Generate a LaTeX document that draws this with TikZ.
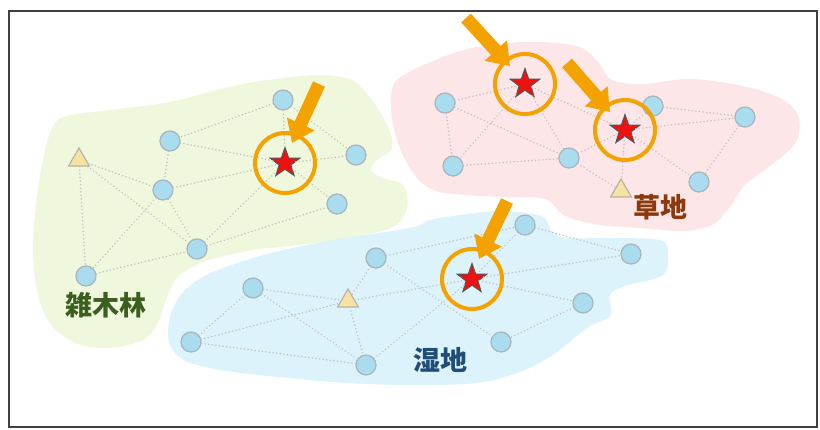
\documentclass[tikz,border=0pt]{standalone}
\usepackage{fontspec}
\newfontfamily\cjk{Noto Sans CJK JP}
\usetikzlibrary{shapes.geometric,arrows.meta}
\definecolor{greenbg}{HTML}{EFF7DC}
\definecolor{pinkbg}{HTML}{FCE6E8}
\definecolor{bluebg}{HTML}{DDF3FB}
\definecolor{nodefill}{HTML}{A8DCEE}
\definecolor{nodedraw}{HTML}{AAB4BC}
\definecolor{trifill}{HTML}{F6E3A4}
\definecolor{tridraw}{HTML}{B8B4A8}
\definecolor{starfill}{HTML}{EE1111}
\definecolor{stardraw}{HTML}{555555}
\definecolor{ringc}{HTML}{F3A200}
\definecolor{edgec}{HTML}{C2C2C2}
\definecolor{lblgreen}{HTML}{3B5F1E}
\definecolor{lblbrown}{HTML}{8B3A0E}
\definecolor{lblblue}{HTML}{1F4E79}
\definecolor{framec}{HTML}{404040}
\tikzset{
  site/.style={circle, fill=nodefill, draw=nodedraw, line width=1.2pt, minimum size=20pt, inner sep=0pt},
  tri/.style={regular polygon, regular polygon sides=3, fill=trifill, draw=tridraw, line width=1.2pt, minimum size=24pt, inner sep=0pt},
  starnode/.style={star, star points=5, star point ratio=2.5, fill=starfill, draw=stardraw, line width=1pt, minimum size=31pt, inner sep=0pt},
  link/.style={edgec, line width=1.7pt, line cap=round, dash pattern=on 0.01pt off 3.6pt},
  ring/.style={draw=ringc, line width=4pt},
  fatarrow/.style={ringc, line width=13pt, -{Triangle[length=21pt,width=29pt]}},
  lbl/.style={font=\cjk\bfseries\fontsize{27}{30}\selectfont, inner sep=0pt}
}
\begin{document}
\begin{tikzpicture}[x=1pt,y=-1pt]
\useasboundingbox (0,0) rectangle (820,429);
% regions
\fill[greenbg] plot[smooth cycle, tension=0.55] coordinates {
 (63,117) (110,110) (170,102) (233,86) (283,78) (320,75) (352,80) (372,100) (388,127) (392,148)
 (376,161) (371,170) (382,178) (403,185) (407,208) (393,227) (353,237) (300,245) (253,250)
 (203,262) (177,278) (166,300) (158,323) (143,340) (110,348) (78,344) (52,326) (38,295)
 (33,250) (36,205) (42,165) (50,133)};
\fill[pinkbg] plot[smooth cycle, tension=0.55] coordinates {
 (407,73) (443,57) (477,47) (527,42) (577,46) (598,62) (612,80) (643,84) (690,79) (743,86)
 (780,98) (798,115) (797,140) (778,160) (745,185) (730,207) (712,225) (683,231) (640,228)
 (600,225) (565,216) (545,199) (500,197) (445,193) (423,184) (408,165) (397,140) (391,110) (393,86)};
\fill[bluebg] plot[smooth cycle, tension=0.55] coordinates {
 (410,228) (333,240) (267,254) (213,272) (187,288) (173,308) (168,332) (172,349) (188,362)
 (233,372) (333,382) (410,385) (477,383) (520,372) (553,355) (587,328) (610,316) (610,295)
 (625,286) (663,275) (668,253) (660,240) (610,238) (567,238) (552,231) (541,216) (500,211)
 (460,215) (430,220)};
% frame
\draw[framec, line width=1.5pt] (9,11) rectangle (817,427);
% green nodes
\node[site] (G1) at (283,100) {};
\node[site] (G2) at (170,141) {};
\node[tri]  (T1) at (79,160) {};
\node[starnode] (S1) at (285,163) {};
\node[site] (G3) at (356,155) {};
\node[site] (G4) at (163,190) {};
\node[site] (G5) at (337,204) {};
\node[site] (G6) at (197,249) {};
\node[site] (G7) at (86,276) {};
% pink nodes
\node[starnode] (S2) at (525,84) {};
\node[starnode] (S3) at (625,130) {};
\node[site] (P1) at (445,103) {};
\node[site] (P2) at (453,166) {};
\node[site] (P3) at (569,158) {};
\node[site] (P4) at (653,106) {};
\node[site] (P5) at (745,117) {};
\node[site] (P6) at (699,182) {};
\node[tri]  (T2) at (621,191) {};
% blue nodes
\node[site] (B1) at (525,225) {};
\node[site] (B2) at (376,258) {};
\node[site] (B3) at (631,254) {};
\node[starnode] (S4) at (472,279) {};
\node[site] (B4) at (253,288) {};
\node[tri]  (T3) at (348,301) {};
\node[site] (B5) at (583,303) {};
\node[site] (B6) at (191,342) {};
\node[site] (B7) at (501,342) {};
\node[site] (B8) at (366,365) {};
% links
\foreach \a/\b in {G1/G2,G1/S1,G1/G3,G2/S1,G2/G4,T1/G4,T1/G6,T1/G7,G4/S1,G4/G6,G4/G7,G7/G6,G6/S1,G6/G5,S1/G3,S1/G5,
  P1/S2,P1/P2,P1/P3,S2/P2,S2/P3,S2/S3,P2/P3,P3/S3,P3/T2,S3/P4,S3/P5,S3/T2,S3/P6,P4/P5,P5/P6,
  B2/B1,B2/T3,B2/B7,B1/S4,B1/B3,B4/T3,B4/B6,B4/B8,B6/T3,B6/B8,T3/B8,T3/S4,B8/S4,S4/B3,S4/B5,B5/B7}
  \draw[link] (\a) -- (\b);
% rings
\node[ring, circle, minimum size=60pt, inner sep=0pt] (R1) at (S1) {};
\node[ring, circle, minimum size=60pt, inner sep=0pt] (R2) at (S2) {};
\node[ring, circle, minimum size=60pt, inner sep=0pt] (R3) at (S3) {};
\node[ring, circle, minimum size=60pt, inner sep=0pt] (R4) at (S4) {};
% arrows
\coordinate (A1s) at (319,84);  \coordinate (A1e) at (292,143);
\coordinate (A2s) at (466,18);  \coordinate (A2e) at (510,66);
\coordinate (A3s) at (567,63);  \coordinate (A3e) at (610,112);
\coordinate (A4s) at (507,201); \coordinate (A4e) at (479,259);
\draw[fatarrow] (A1s) -- (A1e);
\draw[fatarrow] (A2s) -- (A2e);
\draw[fatarrow] (A3s) -- (A3e);
\draw[fatarrow] (A4s) -- (A4e);
% labels
\node[lbl, text=lblgreen] (L1) at (106,305) {雑木林};
\node[lbl, text=lblbrown] (L2) at (660,207) {草地};
\node[lbl, text=lblblue]  (L3) at (440,360) {湿地};
\end{tikzpicture}
\end{document}
